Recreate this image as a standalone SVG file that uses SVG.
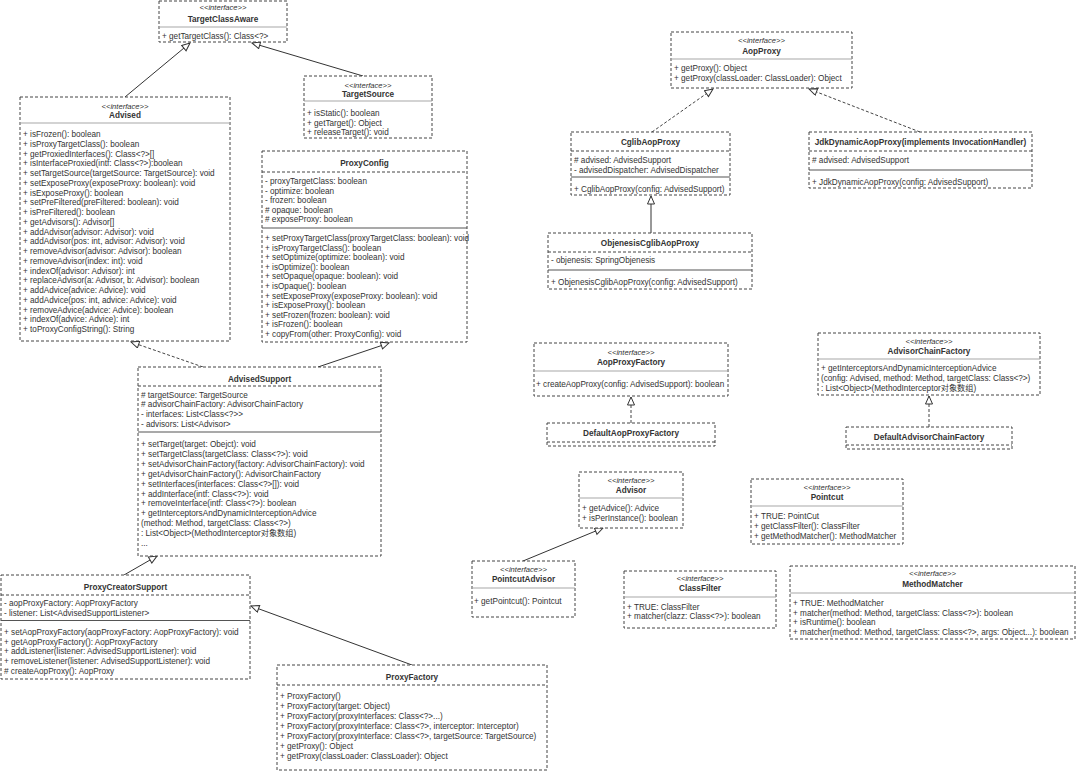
<svg xmlns="http://www.w3.org/2000/svg" width="1080" height="772" viewBox="0 0 1080 772">
<style>
.box{fill:#fff;stroke:#444;stroke-width:1;stroke-dasharray:3 2}
.dv{stroke:#444;stroke-width:1;stroke-dasharray:3 2}
.sep{stroke:#555;stroke-width:1.2}
.ig{stroke:#a8a8a8;stroke-width:1.2}
text{font-family:"Liberation Sans","Noto Sans CJK SC",sans-serif;fill:#333;font-size:8.2px}
.b{font-weight:bold;text-anchor:middle}
.i{font-style:italic;font-size:7.6px;text-anchor:middle}
.ln{stroke:#333;stroke-width:1;fill:none}
.dl{stroke:#444;stroke-width:1;fill:none;stroke-dasharray:3 2}
</style>
<defs>
<marker id="tri" markerWidth="10" markerHeight="10" refX="9" refY="4" orient="auto" markerUnits="userSpaceOnUse"><path d="M1,0.5 L9,4 L1,7.5 z" fill="#fff" stroke="#333" stroke-width="1" stroke-dasharray="none"/></marker>
</defs>
<rect width="1080" height="772" fill="#fff"/>

<g id="connectors">
<line class="ln" x1="125" y1="97" x2="190" y2="43" marker-end="url(#tri)"/>
<line class="ln" x1="363" y1="76" x2="252" y2="43" marker-end="url(#tri)"/>
<line class="dl" x1="203" y1="367" x2="131" y2="342" marker-end="url(#tri)"/>
<line class="ln" x1="318" y1="367" x2="389" y2="343" marker-end="url(#tri)"/>
<line class="ln" x1="124" y1="575" x2="157" y2="556" marker-end="url(#tri)"/>
<line class="ln" x1="412" y1="665" x2="251" y2="606" marker-end="url(#tri)"/>
<line class="dl" x1="652" y1="132" x2="713" y2="89" marker-end="url(#tri)"/>
<line class="dl" x1="920" y1="132" x2="809" y2="89" marker-end="url(#tri)"/>
<line class="ln" x1="651" y1="233" x2="651" y2="196" marker-end="url(#tri)"/>
<line class="dl" x1="631" y1="423" x2="631" y2="397" marker-end="url(#tri)"/>
<line class="dl" x1="929" y1="427" x2="929" y2="396" marker-end="url(#tri)"/>
<line class="ln" x1="523" y1="561" x2="603" y2="528" marker-end="url(#tri)"/>
</g>

<g id="TargetClassAware">
<rect class="box" x="159" y="1" width="128" height="41"/>
<text class="i" x="223" y="10">&lt;&lt;interface&gt;&gt;</text>
<text class="b" x="223" y="22">TargetClassAware</text>
<line class="ig" x1="159" y1="27" x2="287" y2="27"/>
<text x="162" y="39">+ getTargetClass(): Class&lt;?&gt;</text>
</g>

<g id="Advised">
<rect class="box" x="20" y="97" width="210" height="244"/>
<text class="i" x="125" y="108.5">&lt;&lt;interface&gt;&gt;</text>
<text class="b" x="125" y="118">Advised</text>
<line class="ig" x1="20" y1="123" x2="230" y2="123"/>
<text x="23" y="137">+ isFrozen(): boolean</text>
<text x="23" y="146.75">+ isProxyTargetClass(): boolean</text>
<text x="23" y="156.5">+ getProxiedInterfaces(): Class&lt;?&gt;[]</text>
<text x="23" y="166.25">+ isInterfaceProxied(intf: Class&lt;?&gt;):boolean</text>
<text x="23" y="176">+ setTargetSource(targetSource: TargetSource): void</text>
<text x="23" y="185.75">+ setExposeProxy(exposeProxy: boolean): void</text>
<text x="23" y="195.5">+ isExposeProxy(): boolean</text>
<text x="23" y="205.25">+ setPreFiltered(preFiltered: boolean): void</text>
<text x="23" y="215">+ isPreFiltered(): boolean</text>
<text x="23" y="224.75">+ getAdvisors(): Advisor[]</text>
<text x="23" y="234.5">+ addAdvisor(advisor: Advisor): void</text>
<text x="23" y="244.25">+ addAdvisor(pos: int, advisor: Advisor): void</text>
<text x="23" y="254">+ removeAdvisor(advisor: Advisor): boolean</text>
<text x="23" y="263.75">+ removeAdvisor(index: int): void</text>
<text x="23" y="273.5">+ indexOf(advisor: Advisor): int</text>
<text x="23" y="283.25">+ replaceAdvisor(a: Advisor, b: Advisor): boolean</text>
<text x="23" y="293">+ addAdvice(advice: Advice): void</text>
<text x="23" y="302.75">+ addAdvice(pos: int, advice: Advice): void</text>
<text x="23" y="312.5">+ removeAdvice(advice: Advice): boolean</text>
<text x="23" y="322.25">+ indexOf(advice: Advice): int</text>
<text x="23" y="332">+ toProxyConfigString(): String</text>
</g>

<g id="TargetSource">
<rect class="box" x="304" y="76" width="128" height="62"/>
<text class="i" x="368" y="88">&lt;&lt;interface&gt;&gt;</text>
<text class="b" x="368" y="96.5">TargetSource</text>
<line class="ig" x1="304" y1="101" x2="432" y2="101"/>
<text x="307" y="116">+ isStatic(): boolean</text>
<text x="307" y="125.5">+ getTarget(): Object</text>
<text x="307" y="135">+ releaseTarget(): void</text>
</g>

<g id="ProxyConfig">
<rect class="box" x="262" y="151" width="205" height="191"/>
<text class="b" x="364.5" y="165.5">ProxyConfig</text>
<line class="dv" x1="262" y1="172" x2="467" y2="172"/>
<text x="265" y="184">- proxyTargetClass: boolean</text>
<text x="265" y="193.5">- optimize: boolean</text>
<text x="265" y="203">- frozen: boolean</text>
<text x="265" y="212.5"># opaque: boolean</text>
<text x="265" y="222"># exposeProxy: boolean</text>
<line class="sep" x1="262" y1="228" x2="467" y2="228"/>
<text x="265" y="241">+ setProxyTargetClass(proxyTargetClass: boolean): void</text>
<text x="265" y="250.6">+ isProxyTargetClass(): boolean</text>
<text x="265" y="260.2">+ setOptimize(optimize: boolean): void</text>
<text x="265" y="269.8">+ isOptimize(): boolean</text>
<text x="265" y="279.4">+ setOpaque(opaque: boolean): void</text>
<text x="265" y="289">+ isOpaque(): boolean</text>
<text x="265" y="298.6">+ setExposeProxy(exposeProxy: boolean): void</text>
<text x="265" y="308.2">+ isExposeProxy(): boolean</text>
<text x="265" y="317.8">+ setFrozen(frozen: boolean): void</text>
<text x="265" y="327.4">+ isFrozen(): boolean</text>
<text x="265" y="337">+ copyFrom(other: ProxyConfig): void</text>
</g>

<g id="AdvisedSupport">
<rect class="box" x="138" y="367" width="243" height="189"/>
<text class="b" x="259.5" y="381.5">AdvisedSupport</text>
<line class="dv" x1="138" y1="386" x2="381" y2="386"/>
<text x="141" y="397.5"># targetSource: TargetSource</text>
<text x="141" y="407.2"># advisorChainFactory: AdvisorChainFactory</text>
<text x="141" y="417">- interfaces: List&lt;Class&lt;?&gt;&gt;</text>
<text x="141" y="427">- advisors: List&lt;Advisor&gt;</text>
<line class="sep" x1="138" y1="432" x2="381" y2="432"/>
<text x="141" y="447">+ setTarget(target: Obejct): void</text>
<text x="141" y="456.9">+ setTargetClass(targetClass: Class&lt;?&gt;): void</text>
<text x="141" y="466.8">+ setAdvisorChainFactory(factory: AdvisorChainFactory): void</text>
<text x="141" y="476.7">+ getAdvisorChainFactory(): AdvisorChainFactory</text>
<text x="141" y="486.6">+ setInterfaces(interfaces: Class&lt;?&gt;[]): void</text>
<text x="141" y="496.5">+ addInterface(intf: Class&lt;?&gt;): void</text>
<text x="141" y="506.4">+ removeInterface(intf: Class&lt;?&gt;): boolean</text>
<text x="141" y="516.3">+ getInterceptorsAndDynamicInterceptionAdvice</text>
<text x="141" y="526.2">(method: Method, targetClass: Class&lt;?&gt;)</text>
<text x="141" y="536.1">: List&lt;Object&gt;(MethodInterceptor对象数组)</text>
<text x="141" y="546">...</text>
</g>

<g id="ProxyCreatorSupport">
<rect class="box" x="1" y="575" width="249" height="104"/>
<text class="b" x="125.5" y="590">ProxyCreatorSupport</text>
<line class="dv" x1="1" y1="595" x2="250" y2="595"/>
<text x="4" y="606">- aopProxyFactory: AopProxyFactory</text>
<text x="4" y="615.5">- listener: List&lt;AdvisedSupportListener&gt;</text>
<line class="sep" x1="1" y1="620.5" x2="250" y2="620.5"/>
<text x="4" y="635">+ setAopProxyFactory(aopProxyFactory: AopProxyFactory): void</text>
<text x="4" y="644.7">+ getAopProxyFactory(): AopProxyFactory</text>
<text x="4" y="654.4">+ addListener(listener: AdvisedSupportListener): void</text>
<text x="4" y="664.1">+ removeListener(listener: AdvisedSupportListener): void</text>
<text x="4" y="673.8"># createAopProxy(): AopProxy</text>
</g>

<g id="ProxyFactory">
<rect class="box" x="277" y="665" width="270" height="105"/>
<text class="b" x="412" y="680">ProxyFactory</text>
<line class="dv" x1="277" y1="685" x2="547" y2="685"/>
<text x="280" y="699">+ ProxyFactory()</text>
<text x="280" y="709">+ ProxyFactory(target: Object)</text>
<text x="280" y="719">+ ProxyFactory(proxyInterfaces: Class&lt;?&gt;...)</text>
<text x="280" y="729">+ ProxyFactory(proxyInterface: Class&lt;?&gt;, interceptor: Interceptor)</text>
<text x="280" y="739">+ ProxyFactory(proxyInterface: Class&lt;?&gt;, targetSource: TargetSource)</text>
<text x="280" y="749">+ getProxy(): Object</text>
<text x="280" y="759">+ getProxy(classLoader: ClassLoader): Object</text>
</g>

<g id="AopProxy">
<rect class="box" x="671" y="32" width="181" height="56"/>
<text class="i" x="761.5" y="42.5">&lt;&lt;interface&gt;&gt;</text>
<text class="b" x="761.5" y="54">AopProxy</text>
<line class="ig" x1="671" y1="59" x2="852" y2="59"/>
<text x="674" y="71">+ getProxy(): Object</text>
<text x="674" y="81">+ getProxy(classLoader: ClassLoader): Object</text>
</g>

<g id="CglibAopProxy">
<rect class="box" x="571" y="132" width="159" height="63"/>
<text class="b" x="650.5" y="145">CglibAopProxy</text>
<line class="dv" x1="571" y1="151" x2="730" y2="151"/>
<text x="574" y="163"># advised: AdvisedSupport</text>
<text x="574" y="172.5">- advisedDispatcher: AdvisedDispatcher</text>
<line class="sep" x1="571" y1="177" x2="730" y2="177"/>
<text x="574" y="192">+ CglibAopProxy(config: AdvisedSupport)</text>
</g>

<g id="JdkDynamicAopProxy">
<rect class="box" x="809" y="132" width="223" height="56"/>
<text class="b" x="920.5" y="145">JdkDynamicAopProxy(implements InvocationHandler)</text>
<line class="dv" x1="809" y1="151" x2="1032" y2="151"/>
<text x="812" y="163"># advised: AdvisedSupport</text>
<line class="sep" x1="809" y1="170" x2="1032" y2="170"/>
<text x="812" y="185">+ JdkDynamicAopProxy(config: AdvisedSupport)</text>
</g>

<g id="ObjenesisCglibAopProxy">
<rect class="box" x="548" y="233" width="204" height="56"/>
<text class="b" x="650" y="246">ObjenesisCglibAopProxy</text>
<line class="dv" x1="548" y1="252" x2="752" y2="252"/>
<text x="551" y="263">- objenesis: SpringObjenesis</text>
<line class="sep" x1="548" y1="270" x2="752" y2="270"/>
<text x="551" y="285">+ ObjenesisCglibAopProxy(config: AdvisedSupport)</text>
</g>

<g id="AopProxyFactory">
<rect class="box" x="534" y="343" width="194" height="53"/>
<text class="i" x="631" y="354.5">&lt;&lt;interface&gt;&gt;</text>
<text class="b" x="631" y="365">AopProxyFactory</text>
<line class="ig" x1="534" y1="371" x2="728" y2="371"/>
<text x="536" y="387">+ createAopProxy(config: AdvisedSupport): boolean</text>
</g>

<g id="DefaultAopProxyFactory">
<rect class="box" x="547" y="423" width="168" height="23"/>
<text class="b" x="631" y="436">DefaultAopProxyFactory</text>
<line class="dv" x1="547" y1="442" x2="715" y2="442"/>
</g>

<g id="AdvisorChainFactory">
<rect class="box" x="818" y="333" width="222" height="62"/>
<text class="i" x="929" y="343.5">&lt;&lt;interface&gt;&gt;</text>
<text class="b" x="929" y="354">AdvisorChainFactory</text>
<line class="ig" x1="818" y1="359" x2="1040" y2="359"/>
<text x="821" y="371">+ getInterceptorsAndDynamicInterceptionAdvice</text>
<text x="821" y="381">(config: Advised, method: Method, targetClass: Class&lt;?&gt;)</text>
<text x="821" y="391">: List&lt;Object&gt;(MethodInterceptor对象数组)</text>
</g>

<g id="DefaultAdvisorChainFactory">
<rect class="box" x="846" y="427" width="166" height="22"/>
<text class="b" x="929" y="440">DefaultAdvisorChainFactory</text>
<line class="dv" x1="846" y1="445" x2="1012" y2="445"/>
</g>

<g id="Advisor">
<rect class="box" x="579" y="472" width="104" height="56"/>
<text class="i" x="631" y="482.5">&lt;&lt;interface&gt;&gt;</text>
<text class="b" x="631" y="493">Advisor</text>
<line class="ig" x1="579" y1="498" x2="683" y2="498"/>
<text x="582" y="511">+ getAdvice(): Advice</text>
<text x="582" y="521">+ isPerInstance(): boolean</text>
</g>

<g id="Pointcut">
<rect class="box" x="751" y="479" width="152" height="65"/>
<text class="i" x="827" y="489.5">&lt;&lt;interface&gt;&gt;</text>
<text class="b" x="827" y="500">Pointcut</text>
<line class="ig" x1="751" y1="506" x2="903" y2="506"/>
<text x="754" y="519">+ TRUE: PointCut</text>
<text x="754" y="529">+ getClassFilter(): ClassFilter</text>
<text x="754" y="539">+ getMethodMatcher(): MethodMatcher</text>
</g>

<g id="PointcutAdvisor">
<rect class="box" x="472" y="561" width="103" height="56"/>
<text class="i" x="523.5" y="571.5">&lt;&lt;interface&gt;&gt;</text>
<text class="b" x="523.5" y="582">PointcutAdvisor</text>
<line class="ig" x1="472" y1="588" x2="575" y2="588"/>
<text x="474" y="604">+ getPointcut(): Pointcut</text>
</g>

<g id="ClassFilter">
<rect class="box" x="624" y="571" width="152" height="57"/>
<text class="i" x="700" y="580.5">&lt;&lt;interface&gt;&gt;</text>
<text class="b" x="700" y="591">ClassFilter</text>
<line class="ig" x1="624" y1="597" x2="776" y2="597"/>
<text x="627" y="609.5">+ TRUE: ClassFilter</text>
<text x="627" y="619">+ matcher(clazz: Class&lt;?&gt;): boolean</text>
</g>

<g id="MethodMatcher">
<rect class="box" x="790" y="566" width="285" height="73"/>
<text class="i" x="932.5" y="575.5">&lt;&lt;interface&gt;&gt;</text>
<text class="b" x="932.5" y="587">MethodMatcher</text>
<line class="ig" x1="790" y1="593" x2="1075" y2="593"/>
<text x="793" y="606">+ TRUE: MethodMatcher</text>
<text x="793" y="615.5">+ matcher(method: Method, targetClass: Class&lt;?&gt;): boolean</text>
<text x="793" y="625">+ isRuntime(): boolean</text>
<text x="793" y="634.5">+ matcher(method: Method, targetClass: Class&lt;?&gt;, args: Object...): boolean</text>
</g>
</svg>
